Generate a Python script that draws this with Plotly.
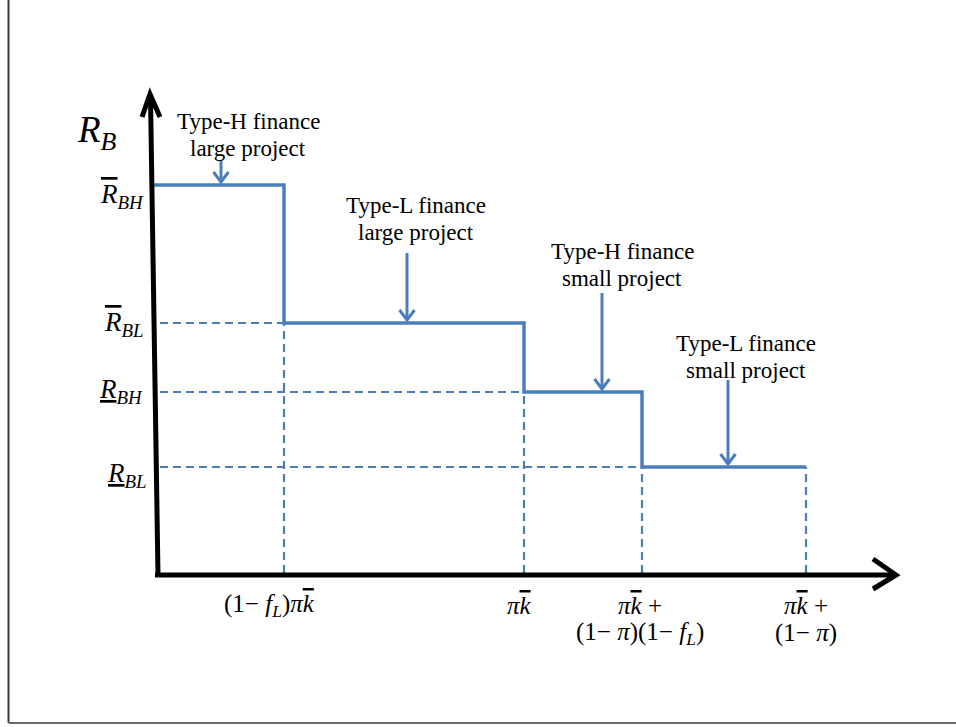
import plotly.graph_objects as go

# ---- data (abstract diagram units; origin at axis intersection) ----
step_edges = [-0.05, 1.27, 3.67, 4.85, 6.49]     # x breaks of the step function
step_levels = [3.90, 2.52, 1.83, 1.08]           # R_B levels of each step
level_labels = [
    '<i><span style="text-decoration:overline">R</span></i><sub><i>BH</i></sub>',
    '<i><span style="text-decoration:overline">R</span></i><sub><i>BL</i></sub>',
    '<i><u>R</u></i><sub><i>BH</i></sub>',
    '<i><u>R</u></i><sub><i>BL</i></sub>',
]
level_label_dy = [-0.11, -0.01, 0.01, -0.08]
level_label_x = [-0.11, -0.11, -0.12, -0.08]
kbar = '<i>π<span style="text-decoration:overline">k</span></i>'
x_tick_lines = [
    ['(1− <i>f</i><sub><i>L</i></sub>)' + kbar],
    [kbar],
    [kbar + ' +', '(1− <i>π</i>)(1− <i>f</i><sub><i>L</i></sub>)'],
    [kbar + ' +', '(1− <i>π</i>)'],
]
x_tick_offsets = [-0.15, -0.05, -0.02, 0.0]
region_lines = [["Type-H finance", "large project"], ["Type-L finance", "large project"],
                ["Type-H finance", "small project"], ["Type-L finance", "small project"]]
region_label_x = [0.91, 2.59, 4.65, 5.89]
region_label_y = [4.54, 3.70, 3.24, 2.32]        # first line centre
arrow_x = [0.64, 2.50, 4.45, 5.71]
arrow_tail_y = [4.15, 3.22, 2.82, 1.95]

BLUE = "#4a7ebb"
FONT = "Liberation Serif"
LINE_GAP = 0.27

fig = go.Figure()

# step function
xs, ys = [], []
for i, lv in enumerate(step_levels):
    xs += [step_edges[i], step_edges[i + 1]]
    ys += [lv, lv]
fig.add_trace(go.Scatter(x=xs, y=ys, mode="lines", line=dict(color=BLUE, width=3.5),
                         hoverinfo="skip", showlegend=False))

# dashed guides
for i in range(1, len(step_levels)):
    fig.add_trace(go.Scatter(x=[0.03, step_edges[i]], y=[step_levels[i], step_levels[i]],
                             mode="lines", line=dict(color=BLUE, width=2.2, dash="8px,5px"),
                             hoverinfo="skip", showlegend=False))
for i in range(1, len(step_edges)):
    top = step_levels[min(i, len(step_levels) - 1)]
    fig.add_trace(go.Scatter(x=[step_edges[i], step_edges[i]], y=[0.02, top],
                             mode="lines", line=dict(color=BLUE, width=2.2, dash="8px,5px"),
                             hoverinfo="skip", showlegend=False))

# axes (thick black arrows)
fig.add_shape(type="line", x0=0.01, y0=0, x1=-0.065, y1=4.78, line=dict(color="black", width=5))
fig.add_shape(type="path", path="M -0.15 4.58 L -0.07 4.81 L 0.03 4.58",
              line=dict(color="black", width=5))
fig.add_shape(type="line", x0=-0.02, y0=0, x1=7.37, y1=0, line=dict(color="black", width=5))
fig.add_shape(type="path", path="M 7.16 0.16 L 7.39 0.0 L 7.16 -0.14",
              line=dict(color="black", width=5))

# frame lines (left and bottom of surrounding box)
fig.add_shape(type="line", xref="paper", yref="paper", x0=0.0089, y0=0.0055, x1=0.0089, y1=1,
              line=dict(color="#3a3a3a", width=2))
fig.add_shape(type="line", xref="paper", yref="paper", x0=0.0089, y0=0.0055, x1=1, y1=0.0055,
              line=dict(color="#6a6a6a", width=2))

# region labels and arrows
for lx, ly, lines in zip(region_label_x, region_label_y, region_lines):
    for j, t in enumerate(lines):
        fig.add_annotation(x=lx, y=ly - j * LINE_GAP, text=t, showarrow=False,
                           font=dict(family=FONT, size=23, color="black"))
for i, (ax_, ty) in enumerate(zip(arrow_x, arrow_tail_y)):
    tip = step_levels[i]
    fig.add_shape(type="line", x0=ax_, y0=ty, x1=ax_, y1=tip + 0.03,
                  line=dict(color=BLUE, width=3))
    fig.add_shape(type="path",
                  path=f"M {ax_-0.075} {tip+0.13} L {ax_} {tip+0.03} L {ax_+0.075} {tip+0.13}",
                  line=dict(color=BLUE, width=3))

# y labels
fig.add_annotation(x=-0.605, y=4.43, text="<i>R</i><sub><i>B</i></sub>", showarrow=False,
                   font=dict(family=FONT, size=37, color="black"))
for lv, dy, lxx, t in zip(step_levels, level_label_dy, level_label_x, level_labels):
    fig.add_annotation(x=lxx, y=lv + dy, text=t, showarrow=False, xanchor="right",
                       font=dict(family=FONT, size=27, color="black"))

# x labels
for xe, off, lines in zip(step_edges[1:], x_tick_offsets, x_tick_lines):
    for j, t in enumerate(lines):
        fig.add_annotation(x=xe + off, y=-0.30 - j * 0.28, text=t, showarrow=False,
                           font=dict(family=FONT, size=25, color="black"))

fig.update_xaxes(range=[-1.57, 7.99], visible=False)
fig.update_yaxes(range=[-1.52, 5.75], visible=False)
fig.update_layout(width=956, height=727, margin=dict(l=0, r=0, t=0, b=0),
                  plot_bgcolor="white", paper_bgcolor="white")

fig.write_html("out.html", config={"displayModeBar": False},
               post_script="document.body.style.margin='0';document.body.style.overflow='hidden';")
